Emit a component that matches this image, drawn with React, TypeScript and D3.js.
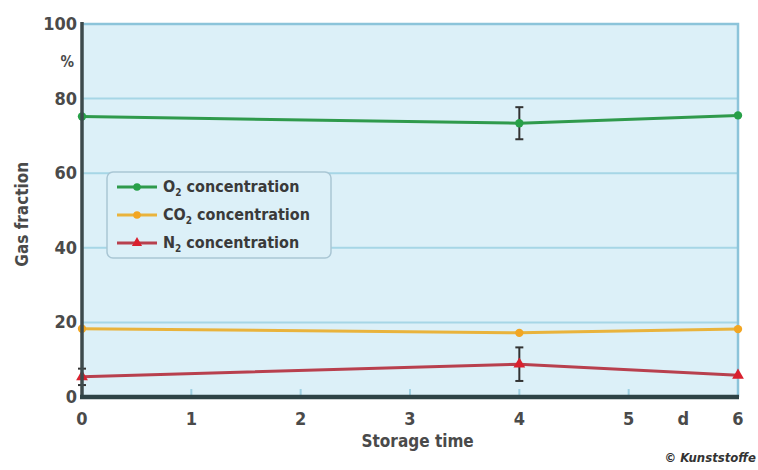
import React, { useEffect, useRef } from 'react';
import * as d3 from 'd3';

// storage time in days
const days = [0, 4, 6];
const o2Values = [75.2, 73.4, 75.5];
const co2Values = [18.3, 17.2, 18.2];
const n2Values = [5.4, 8.8, 5.8];
const o2Errors = [0, 4.3, 0];
const n2Errors = [2.2, 4.5, 0];
const yTicks = [0, 20, 40, 60, 80, 100];
const xTicks = [0, 1, 2, 3, 4, 5, 6];

const W = 758;
const H = 470;
const margin = { left: 82, right: 20, top: 24, bottom: 73 };
const font = '"DejaVu Sans Condensed", "DejaVu Sans", sans-serif';

const series = [
  { name: 'O', sub: '2', rest: ' concentration', values: o2Values, errors: o2Errors, color: '#27a048', line: '#2f9a4c', marker: 'circle' },
  { name: 'CO', sub: '2', rest: ' concentration', values: co2Values, errors: null, color: '#f2a623', line: '#e9b33c', marker: 'circle' },
  { name: 'N', sub: '2', rest: ' concentration', values: n2Values, errors: n2Errors, color: '#d9202e', line: '#b8404e', marker: 'triangle' },
];

export default function App() {
  const ref = useRef<SVGSVGElement>(null);

  useEffect(() => {
    const svg = d3.select(ref.current);
    svg.selectAll('*').remove();

    const x = d3.scaleLinear().domain([0, 6]).range([margin.left, W - margin.right]);
    const y = d3.scaleLinear().domain([0, 100]).range([H - margin.bottom, margin.top]);

    // plot background
    svg.append('rect')
      .attr('x', x(0)).attr('y', y(100))
      .attr('width', x(6) - x(0)).attr('height', y(0) - y(100))
      .attr('fill', '#dcf0f8');

    // horizontal grid
    svg.append('g')
      .selectAll('line')
      .data(yTicks.filter((t) => t > 0 && t < 100))
      .join('line')
      .attr('x1', x(0)).attr('x2', x(6))
      .attr('y1', (d) => y(d)).attr('y2', (d) => y(d))
      .attr('stroke', '#a6d6e6').attr('stroke-width', 2);

    // top and right border
    svg.append('path')
      .attr('d', `M${x(0)},${y(100)}H${x(6)}V${y(0)}`)
      .attr('fill', 'none').attr('stroke', '#8cc4da').attr('stroke-width', 2.5);

    // small inner x ticks
    svg.append('g')
      .selectAll('line')
      .data(xTicks.filter((t) => t > 0 && t < 6))
      .join('line')
      .attr('x1', (d) => x(d)).attr('x2', (d) => x(d))
      .attr('y1', y(0)).attr('y2', y(0) - 8)
      .attr('stroke', '#9fd0e2').attr('stroke-width', 2);

    const line = d3.line<number>()
      .x((d, i) => x(days[i]))
      .y((d) => y(d));

    series.forEach((s) => {
      svg.append('path')
        .datum(s.values)
        .attr('d', line)
        .attr('fill', 'none')
        .attr('stroke', s.line)
        .attr('stroke-width', 3);

      if (s.errors) {
        const eb = svg.append('g').attr('stroke', '#333').attr('stroke-width', 2);
        s.values.forEach((v, i) => {
          const e = s.errors![i];
          if (!e) return;
          const cx = x(days[i]);
          eb.append('line').attr('x1', cx).attr('x2', cx).attr('y1', y(v + e)).attr('y2', y(v - e));
          eb.append('line').attr('x1', cx - 4).attr('x2', cx + 4).attr('y1', y(v + e)).attr('y2', y(v + e));
          eb.append('line').attr('x1', cx - 4).attr('x2', cx + 4).attr('y1', y(v - e)).attr('y2', y(v - e));
        });
      }

      const sym = d3.symbol().type(s.marker === 'triangle' ? d3.symbolTriangle : d3.symbolCircle).size(s.marker === 'triangle' ? 60 : 55);
      svg.append('g')
        .selectAll('path')
        .data(s.values)
        .join('path')
        .attr('d', sym)
        .attr('transform', (d, i) => `translate(${x(days[i])},${y(d)})`)
        .attr('fill', s.color);
    });

    // axes
    svg.append('line')
      .attr('x1', x(0)).attr('x2', x(0)).attr('y1', y(100) - 2).attr('y2', y(0))
      .attr('stroke', '#3d4a4c').attr('stroke-width', 3.5);
    svg.append('line')
      .attr('x1', x(0) - 2).attr('x2', x(6) + 1).attr('y1', y(0)).attr('y2', y(0))
      .attr('stroke', '#2e4346').attr('stroke-width', 4.5);

    const labelColor = '#4a4a4a';
    svg.append('g')
      .selectAll('text')
      .data(yTicks)
      .join('text')
      .attr('x', x(0) - 5)
      .attr('y', (d) => y(d) + 6)
      .attr('text-anchor', 'end')
      .attr('font-family', font).attr('font-size', 18).attr('font-weight', 'bold').attr('fill', labelColor)
      .text((d) => d);
    svg.append('text')
      .attr('x', x(0) - 8).attr('y', y(90) + 6)
      .attr('text-anchor', 'end')
      .attr('font-family', font).attr('font-size', 15).attr('font-weight', 'bold').attr('fill', labelColor)
      .text('%');

    svg.append('g')
      .selectAll('text')
      .data(xTicks)
      .join('text')
      .attr('x', (d) => x(d))
      .attr('y', y(0) + 28)
      .attr('text-anchor', 'middle')
      .attr('font-family', font).attr('font-size', 18).attr('font-weight', 'bold').attr('fill', labelColor)
      .text((d) => d);
    svg.append('text')
      .attr('x', x(5.5)).attr('y', y(0) + 28)
      .attr('text-anchor', 'middle')
      .attr('font-family', font).attr('font-size', 18).attr('font-weight', 'bold').attr('fill', labelColor)
      .text('d');

    svg.append('text')
      .attr('x', x(3.07)).attr('y', y(0) + 50)
      .attr('text-anchor', 'middle')
      .attr('font-family', font).attr('font-size', 17).attr('font-weight', 'bold').attr('fill', labelColor)
      .text('Storage time');
    svg.append('text')
      .attr('transform', `translate(28,${y(49)}) rotate(-90)`)
      .attr('text-anchor', 'middle')
      .attr('font-family', font).attr('font-size', 17).attr('font-weight', 'bold').attr('fill', labelColor)
      .text('Gas fraction');

    svg.append('text')
      .attr('x', 756).attr('y', 462)
      .attr('text-anchor', 'end')
      .attr('font-family', font).attr('font-size', 13)
      .attr('font-weight', 'bold').attr('font-style', 'italic').attr('fill', '#333')
      .text('© Kunststoffe');

    // legend
    const lg = svg.append('g').attr('transform', 'translate(107,172)');
    lg.append('rect')
      .attr('width', 224).attr('height', 86).attr('rx', 6)
      .attr('fill', '#dcf0f8').attr('stroke', '#a9c6d4').attr('stroke-width', 1.5);
    series.forEach((s, i) => {
      const row = lg.append('g').attr('transform', `translate(0,${15 + i * 28})`);
      row.append('line').attr('x1', 10).attr('x2', 50).attr('stroke', s.line).attr('stroke-width', 3);
      row.append('path')
        .attr('d', d3.symbol().type(s.marker === 'triangle' ? d3.symbolTriangle : d3.symbolCircle).size(45)())
        .attr('transform', 'translate(30,0)')
        .attr('fill', s.color);
      const t = row.append('text')
        .attr('x', 56).attr('y', 5)
        .attr('font-family', font).attr('font-size', 16).attr('font-weight', 'bold').attr('fill', '#3a3a3a');
      t.append('tspan').text(s.name);
      t.append('tspan').attr('font-size', 10).attr('dy', 4).text(s.sub);
      t.append('tspan').attr('dy', -4).text(s.rest);
    });
  }, []);

  return (
    <svg ref={ref} width={W} height={H}
      style={{ position: 'absolute', left: 0, top: 0, background: '#fff' }} />
  );
}
